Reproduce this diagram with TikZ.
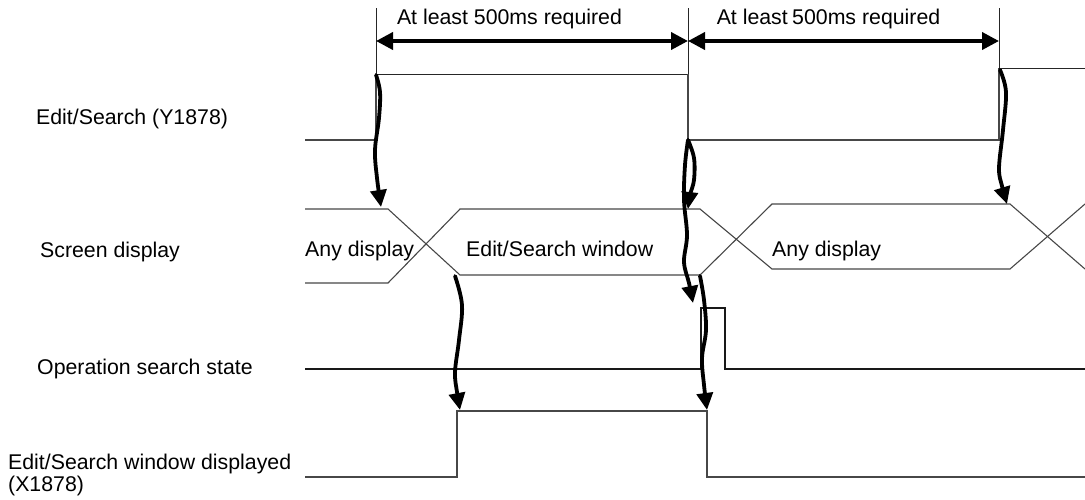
\documentclass[tikz,border=0pt]{standalone}
\usepackage{fontspec}
\setmainfont{Liberation Sans}
\usetikzlibrary{arrows.meta}
\begin{document}
\begin{tikzpicture}[x=1pt,y=-1pt,
  sig/.style={line width=1.1pt,draw=black!72},
  ext/.style={line width=0.9pt,draw=black!85},
  dim/.style={line width=3.8pt,{Triangle[length=17pt,width=17pt]}-{Triangle[length=17pt,width=17pt]}},
  cause/.style={line width=3.8pt,line cap=round,-{Triangle[length=17pt,width=16pt]}},
  lbl/.style={anchor=base west,inner sep=0pt,font=\fontsize{21.3}{24}\selectfont},
  ctr/.style={anchor=base,inner sep=0pt,font=\fontsize{21.3}{24}\selectfont}]
\useasboundingbox (0,0) rectangle (1085,499);
% row labels
\node[lbl] (l1) at (36,124) {Edit/Search (Y1878)};
\node[lbl] (l2) at (40,257) {Screen display};
\node[lbl] (l3) at (37,374) {Operation search state};
\node[lbl] (l4) at (8,469) {Edit/Search window displayed};
\node[lbl] (l5) at (8,491) {(X1878)};
% key instants
\coordinate (t1) at (376,74);
\coordinate (t2) at (688,74);
\coordinate (t3) at (999,68);
% extension lines
\draw[ext] (376,8) -- (t1);
\draw[ext] (688,8) -- (t2);
\draw[ext] (999,8) -- (t3);
% dimension arrows
\coordinate (d1) at (376,41);
\coordinate (d2) at (688,41);
\coordinate (d3) at (999,41);
\draw[dim] (d1) -- (d2);
\draw[dim] (d2) -- (d3);
\node[ctr] (m1) at (509.5,24) {At least 500ms required};
\node[ctr] (m2) at (828.5,24) {At least\hspace{-1.5pt} 500ms required};
% Y1878
\draw[sig] (305,140) -- (376,140) -- (t1);
\draw[ext] (t1) -- (t2);
\draw[sig] (t2) -- (688,140) -- (999,140) -- (t3);
\draw[ext] (t3) -- (1085,68);
% Screen display bus
\draw[sig] (305,209) -- (388,209) -- (460,275) -- (700,275) -- (772,204) -- (1010,204) -- (1085,269);
\draw[sig] (305,283) -- (388,283) -- (460,209) -- (700,209) -- (772,269) -- (1010,269) -- (1085,204);
\node[lbl] (b1) at (305,256) {Any display};
\node[lbl] (b2) at (466,256) {Edit/Search window};
\node[lbl] (b3) at (772,256) {Any display};
% Operation search state
\draw[sig,draw=black!90] (305,369) -- (701,369) -- (701,308) -- (725,308) -- (725,369) -- (1085,369);
% X1878
\draw[sig] (305,477) -- (457,477) -- (457,411) -- (707,411) -- (707,477) -- (1085,477);
% cause arrows (hand drawn)
\coordinate (c1s) at (376,75);  \coordinate (c1e) at (381,207);
\coordinate (c2s) at (688,140); \coordinate (c2e) at (688,209);
\coordinate (c3s) at (688,140); \coordinate (c3e) at (693,303);
\coordinate (c4s) at (700,276); \coordinate (c4e) at (707,410);
\coordinate (c5s) at (1000,70); \coordinate (c5e) at (1007,204);
\coordinate (c6s) at (455,276); \coordinate (c6e) at (460,410);
\draw[cause] plot[smooth,tension=0.6] coordinates {(c1s) (380,92) (379,118) (375,150) (377,178) (c1e)};
\draw[cause] plot[smooth,tension=0.6] coordinates {(c2s) (694,158) (694,180) (690,195) (c2e)};
\draw[cause] plot[smooth,tension=0.6] coordinates {(c3s) (685,165) (684,200) (687,235) (684,262) (689,283) (c3e)};
\draw[cause] plot[smooth,tension=0.6] coordinates {(c4s) (704,300) (706,330) (702,358) (704,385) (c4e)};
\draw[cause] plot[smooth,tension=0.6] coordinates {(c5s) (1006,92) (1003,130) (999,168) (1002,186) (c5e)};
\draw[cause] plot[smooth,tension=0.6] coordinates {(c6s) (462,305) (459,340) (455,372) (457,392) (c6e)};
\end{tikzpicture}
\end{document}
